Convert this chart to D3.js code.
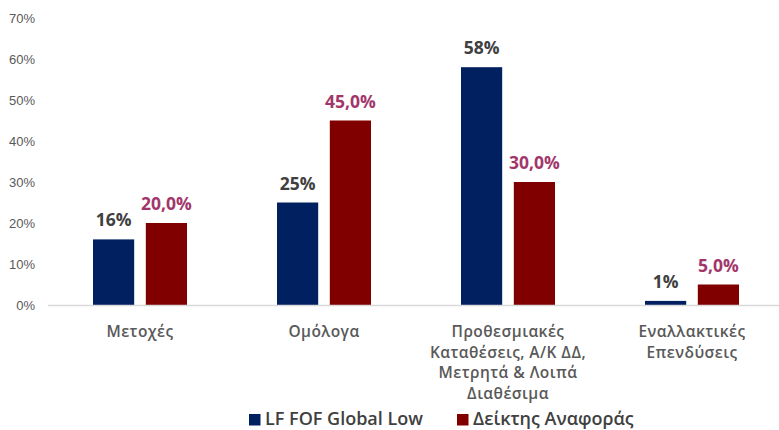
<!DOCTYPE html>
<html lang="el">
    <head>
        <meta charset="UTF-8" />
        <title>Κατανομή</title>
        <style>
            body { margin: 0; background: #fff; }
            svg { display: block; font-family: "Open Sans", "Liberation Sans", sans-serif; }
            .tick text { font-family: "Liberation Sans", Arial, sans-serif; font-size: 13px; fill: #595959; }
            .cat { font-size: 15.5px; font-weight: 600; fill: #595959; letter-spacing: 0.45px; }
            .lbl { font-size: 17.5px; font-weight: 700; }
            .leg { font-size: 18px; font-weight: 600; fill: #404040; }
        </style>
    </head>
    <body>
        <svg width="779" height="430"></svg>
        <script src="https://cdnjs.cloudflare.com/ajax/libs/d3/7.9.0/d3.min.js"></script>
        <script>
            const categories = [
                ["Μετοχές"],
                ["Ομόλογα"],
                ["Προθεσμιακές", "Καταθέσεις, Α/Κ ΔΔ,", "Μετρητά & Λοιπά", "Διαθέσιμα"],
                ["Εναλλακτικές", "Επενδύσεις"],
            ];
            const seriesNames = ["LF FOF Global Low", "Δείκτης Αναφοράς"];
            const fundValues = [0.16, 0.25, 0.58, 0.01];
            const benchValues = [0.2, 0.45, 0.3, 0.05];
            const yTicks = [0, 0.1, 0.2, 0.3, 0.4, 0.5, 0.6, 0.7];

            const colors = ["#002060", "#800000"];
            const labelColors = ["#404040", "#A2366A"];

            const svg = d3.select("svg");
            const x = d3.scaleBand().domain(d3.range(categories.length)).range([48, 784]);
            const y = d3.scaleLinear().domain([0, 0.7]).range([305, 18]);
            const inner = d3.scaleBand().domain([0, 1]).range([45, 139]).paddingInner(0.22);

            // y axis labels, no line
            const yAxis = svg
                .append("g")
                .attr("transform", "translate(35,0)")
                .call(d3.axisLeft(y).tickValues(yTicks).tickFormat(d3.format(".0%")).tickSize(0).tickPadding(0));
            yAxis.select(".domain").remove();

            const series = [fundValues, benchValues];
            const fmt = [(v) => Math.round(v * 100) + "%", (v) => (v * 100).toFixed(1).replace(".", ",") + "%"];

            series.forEach((vals, s) => {
                svg.append("g")
                    .selectAll("rect")
                    .data(vals)
                    .enter()
                    .append("rect")
                    .attr("x", (d, i) => x(i) + inner(s))
                    .attr("y", (d) => y(d))
                    .attr("width", inner.bandwidth())
                    .attr("height", (d) => y(0) - y(d))
                    .attr("fill", colors[s]);

                svg.append("g")
                    .selectAll("text")
                    .data(vals)
                    .enter()
                    .append("text")
                    .attr("class", "lbl")
                    .attr("x", (d, i) => x(i) + inner(s) + inner.bandwidth() / 2)
                    .attr("y", (d) => y(d) - 13)
                    .attr("text-anchor", "middle")
                    .attr("fill", labelColors[s])
                    .text(fmt[s]);
            });

            // baseline
            svg.append("line")
                .attr("x1", 48)
                .attr("x2", 779)
                .attr("y1", y(0) + 0.5)
                .attr("y2", y(0) + 0.5)
                .attr("stroke", "#d9d9d9")
                .attr("stroke-width", 1.5);

            // category labels
            const cat = svg
                .append("g")
                .selectAll("text")
                .data(categories)
                .enter()
                .append("text")
                .attr("class", "cat")
                .attr("text-anchor", "middle")
                .attr("x", (d, i) => x(i) + x.bandwidth() / 2)
                .attr("y", 337);
            cat.selectAll("tspan")
                .data((d) => d)
                .enter()
                .append("tspan")
                .attr("x", function () {
                    return this.parentNode.getAttribute("x");
                })
                .attr("dy", (d, i) => (i === 0 ? 0 : 20.5))
                .text((d) => d);

            // legend
            const legendX = [249, 457];
            seriesNames.forEach((name, s) => {
                const g = svg.append("g").attr("transform", `translate(${legendX[s]},414)`);
                g.append("rect").attr("width", 11.5).attr("height", 11.5).attr("fill", colors[s]);
                g.append("text").attr("class", "leg").attr("x", 16).attr("y", 11).text(name);
            });
        </script>
    </body>
</html>
